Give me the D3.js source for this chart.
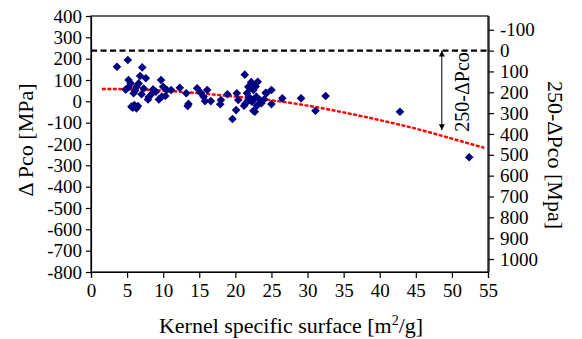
<!DOCTYPE html>
<html><head><meta charset="utf-8">
<script src="https://cdn.jsdelivr.net/npm/d3@7"></script>
<style>
html,body{margin:0;padding:0;background:#fff;}
svg{display:block;}
</style></head>
<body>
<script>
// ---- data ----
const xTickValues = [0,5,10,15,20,25,30,35,40,45,50,55];
const yLeftTickValues = [400,300,200,100,0,-100,-200,-300,-400,-500,-600,-700,-800];
const yRightTickValues = [-100,0,100,200,300,400,500,600,700,800,900,1000];

// scatter: kernel specific surface (m2/g), ΔPco (MPa)
const surfX = [3.6,5.1,7.1,6.8,7.6,5.2,5.5,5.2,6.6,6.3,5.9,7.0,7.9,6.0,6.3,5.6,6.5,5.8,8.6,8.5,9.7,10.0,10.5,9.8,9.4,10.3,11.1,4.8,6.1,7.3,8.0,9.0,
  12.3,13.2,13.5,13.4,14.7,15.2,15.6,16.1,15.8,16.6,18.0,17.9,18.9,20.2,20.4,20.1,19.6,
  21.3,21.2,21.8,22.3,22.0,22.5,23.1,21.6,21.8,22.3,22.9,23.4,23.6,22.5,22.7,24.2,25.0,25.0,22.2,22.8,21.9,22.6,23.0,24.0,21.4,24.3,
  26.5,29.1,31.1,32.5,42.8,52.4];
const dPco = [162,194,159,119,108,100,84,66,84,68,38,33,9,-17,-33,-25,-22,-30,56,38,100,68,53,22,9,25,53,55,50,60,20,45,
  64,38,-12,-22,61,40,22,53,1,1,6,-14,33,38,6,-41,-83,
  125,-21,68,76,61,53,92,38,6,-2,22,6,-9,-44,-49,40,53,-13,90,70,20,10,-20,10,-10,38,
  14,14,-44,25,-49,-262];

// trend line
const trendX = [1.5,5,10,15,20,25,30,35,40,45,50,54.5];
const trendY = [58,57,50,38,22,5,-20,-52,-88,-128,-175,-218];

const refLevel = 0;        // right axis value of the dashed reference (ΔPco = 250)
const arrowX = 48.6;
const arrowBottom = -135;  // ΔPco at arrow tip

const FONT = "Liberation Serif";
const W = 582, H = 339;
const svg = d3.select("body").append("svg").attr("width", W).attr("height", H)
  .attr("font-family", FONT);

const x = d3.scaleLinear().domain([0,55]).range([91,488]);
const yL = d3.scaleLinear().domain([-800,400]).range([272,16]);
const yR = d3.scaleLinear().domain([0,1000]).range([50.6,259]);

// frame
svg.append("rect").attr("x",x(0)).attr("y",yL(400)).attr("width",x(55)-x(0)).attr("height",yL(-800)-yL(400))
  .attr("fill","none").attr("stroke","#000").attr("stroke-width",1.2);

const tickFont = 19;
const fmt = d => d<0 ? "-"+Math.abs(d) : String(d);
const gx = svg.append("g").attr("transform",`translate(0,${yL(-800)})`)
  .call(d3.axisBottom(x).tickValues(xTickValues).tickSize(6).tickPadding(6).tickFormat(fmt));
const gl = svg.append("g").attr("transform",`translate(${x(0)},0)`)
  .call(d3.axisLeft(yL).tickValues(yLeftTickValues).tickSize(5).tickPadding(4).tickFormat(fmt));
const gr = svg.append("g").attr("transform",`translate(${x(55)+1},0)`)
  .call(d3.axisRight(yR).tickValues(yRightTickValues).tickSize(5).tickPadding(6).tickFormat(fmt));
gr.select(".domain").attr("d",`M0,${yL(400)}V${yL(-800)}`);
[gx,gl,gr].forEach(g=>{
  g.attr("font-family",FONT).attr("font-size",tickFont);
  g.selectAll("text").attr("font-family",FONT).attr("font-size",tickFont).attr("fill","#000");
  g.selectAll("line").attr("stroke","#000").attr("stroke-width",1.2);
  g.select(".domain").attr("stroke","#000").attr("stroke-width",1.2);
});

// dashed reference line
svg.append("line").attr("x1",x(0)).attr("x2",x(55)).attr("y1",yR(refLevel)).attr("y2",yR(refLevel))
  .attr("stroke","#000").attr("stroke-width",2.2).attr("stroke-dasharray","6,3.5");

// trend line
const pts = trendX.map((v,i)=>[v,trendY[i]]);
svg.append("path").datum(pts)
  .attr("d", d3.line().x(d=>x(d[0])).y(d=>yL(d[1])).curve(d3.curveMonotoneX))
  .attr("fill","none").attr("stroke","#ff0000").attr("stroke-width",2.4).attr("stroke-dasharray","4,1.5");

// scatter diamonds
const r = 4.3;
svg.append("g").selectAll("path").data(surfX.map((v,i)=>[v,dPco[i]])).join("path")
  .attr("transform",d=>`translate(${x(d[0])},${yL(d[1])})`)
  .attr("d",`M0,${-r}L${r},0L0,${r}L${-r},0Z`)
  .attr("fill","#000080");

// arrow
const defs = svg.append("defs");
defs.append("marker").attr("id","ah").attr("viewBox","0 0 10 10").attr("refX",10).attr("refY",5)
  .attr("markerWidth",6).attr("markerHeight",6).attr("orient","auto-start-reverse").attr("markerUnits","userSpaceOnUse")
  .append("path").attr("d","M0,0L10,5L0,10Z").attr("fill","#000");
svg.append("line").attr("x1",x(arrowX)).attr("x2",x(arrowX)).attr("y1",yR(refLevel)).attr("y2",yL(arrowBottom))
  .attr("stroke","#000").attr("stroke-width",1)
  .attr("marker-start","url(#ah)").attr("marker-end","url(#ah)");

// labels
svg.append("text").attr("transform",`translate(469,92) rotate(-90)`).attr("text-anchor","middle")
  .attr("font-family",FONT).attr("font-size",20).text("250-\u0394Pco");

svg.append("text").attr("transform",`translate(33,140) rotate(-90)`).attr("text-anchor","middle")
  .attr("font-family",FONT).attr("font-size",22).text("\u0394 Pco [MPa]");

svg.append("text").attr("transform",`translate(548,155) rotate(90)`).attr("text-anchor","middle")
  .attr("font-family",FONT).attr("font-size",22).text("250-\u0394Pco [Mpa]");

const xt = svg.append("text").attr("x",291).attr("y",333).attr("text-anchor","middle")
  .attr("font-family",FONT).attr("font-size",22);
xt.append("tspan").text("Kernel specific surface [m");
xt.append("tspan").attr("font-size",14).attr("dy",-8).text("2");
xt.append("tspan").attr("dy",8).text("/g]");
</script>
</body></html>
